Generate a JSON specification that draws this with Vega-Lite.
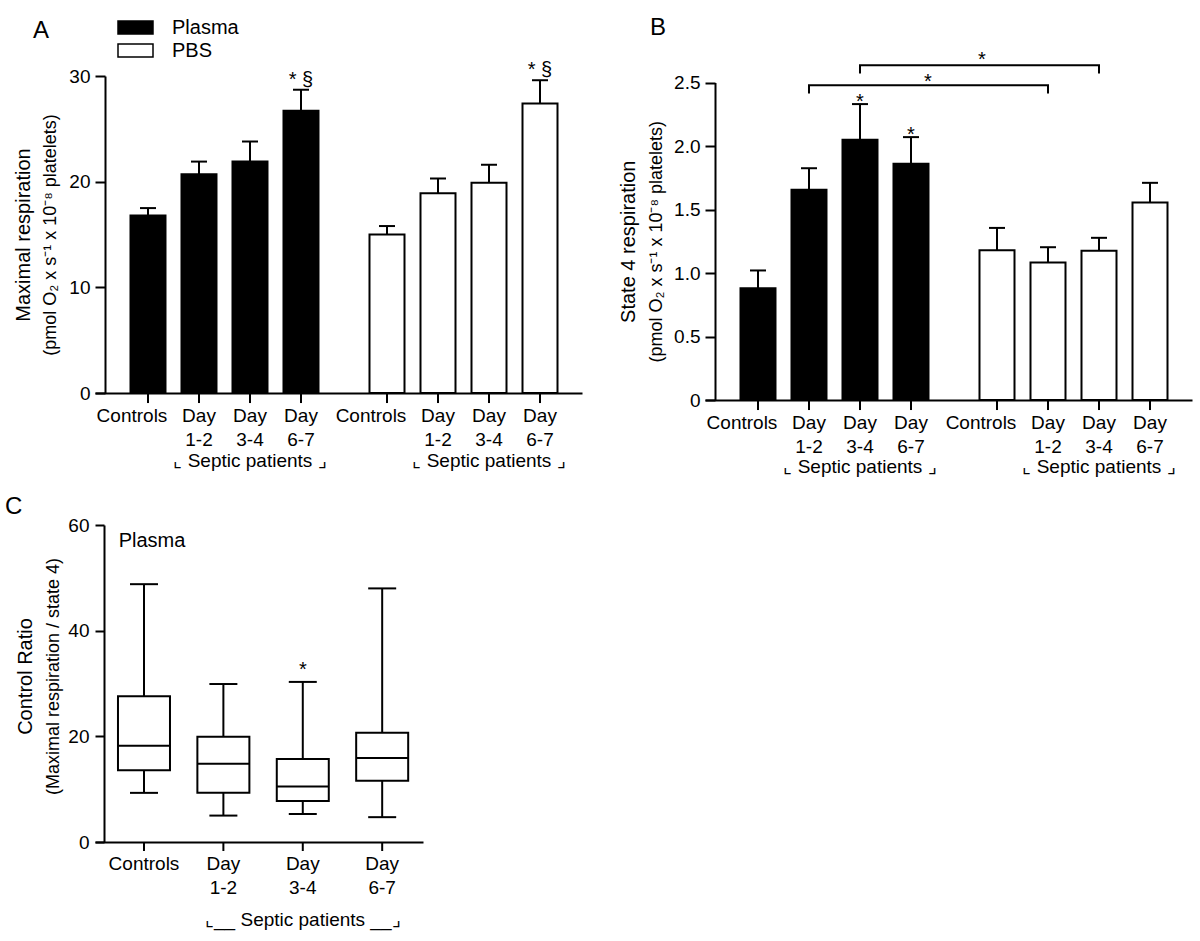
{
  "$schema": "https://vega.github.io/schema/vega-lite/v6.json",
  "padding": {"left": 5, "top": 16, "right": 5, "bottom": 5},
  "bounds": "flush",
  "spacing": 449,
  "datasets": {
    "A": [
      {"group": "Plasma", "cat": "Controls", "lab": "Controls", "mean": 16.8, "err": 17.5, "sig": ""},
      {"group": "Plasma", "cat": "Day 1-2", "lab": "Day\n1-2", "mean": 20.7, "err": 21.9, "sig": ""},
      {"group": "Plasma", "cat": "Day 3-4", "lab": "Day\n3-4", "mean": 21.9, "err": 23.8, "sig": ""},
      {"group": "Plasma", "cat": "Day 6-7", "lab": "Day\n6-7", "mean": 26.7, "err": 28.7, "sig": "* §"},
      {"group": "PBS", "cat": "Controls", "lab": "Controls", "mean": 15.0, "err": 15.8, "sig": ""},
      {"group": "PBS", "cat": "Day 1-2", "lab": "Day\n1-2", "mean": 18.9, "err": 20.3, "sig": ""},
      {"group": "PBS", "cat": "Day 3-4", "lab": "Day\n3-4", "mean": 19.9, "err": 21.6, "sig": ""},
      {"group": "PBS", "cat": "Day 6-7", "lab": "Day\n6-7", "mean": 27.4, "err": 29.6, "sig": "* §"}
    ],
    "B": [
      {"group": "Plasma", "cat": "Controls", "lab": "Controls", "mean": 0.88, "err": 1.02, "sig": ""},
      {"group": "Plasma", "cat": "Day 1-2", "lab": "Day\n1-2", "mean": 1.655, "err": 1.825, "sig": ""},
      {"group": "Plasma", "cat": "Day 3-4", "lab": "Day\n3-4", "mean": 2.05, "err": 2.33, "sig": "*"},
      {"group": "Plasma", "cat": "Day 6-7", "lab": "Day\n6-7", "mean": 1.86, "err": 2.07, "sig": "*"},
      {"group": "PBS", "cat": "Controls", "lab": "Controls", "mean": 1.18, "err": 1.355, "sig": ""},
      {"group": "PBS", "cat": "Day 1-2", "lab": "Day\n1-2", "mean": 1.083, "err": 1.203, "sig": ""},
      {"group": "PBS", "cat": "Day 3-4", "lab": "Day\n3-4", "mean": 1.175, "err": 1.277, "sig": ""},
      {"group": "PBS", "cat": "Day 6-7", "lab": "Day\n6-7", "mean": 1.555, "err": 1.71, "sig": ""}
    ],
    "brk": [
      {"b": 1, "o": 1, "group": "Plasma", "cat": "Day 1-2", "v": 2.413},
      {"b": 1, "o": 2, "group": "Plasma", "cat": "Day 1-2", "v": 2.479},
      {"b": 1, "o": 3, "group": "PBS", "cat": "Day 1-2", "v": 2.479},
      {"b": 1, "o": 4, "group": "PBS", "cat": "Day 1-2", "v": 2.413},
      {"b": 2, "o": 1, "group": "Plasma", "cat": "Day 3-4", "v": 2.571},
      {"b": 2, "o": 2, "group": "Plasma", "cat": "Day 3-4", "v": 2.636},
      {"b": 2, "o": 3, "group": "PBS", "cat": "Day 3-4", "v": 2.636},
      {"b": 2, "o": 4, "group": "PBS", "cat": "Day 3-4", "v": 2.571}
    ],
    "C": [
      {"cat": "Controls", "lab": "Controls", "min": 9.3, "q1": 13.6, "med": 18.2, "q3": 27.6, "max": 48.8, "sig": ""},
      {"cat": "Day 1-2", "lab": "Day\n1-2", "min": 5.0, "q1": 9.3, "med": 14.8, "q3": 19.9, "max": 29.9, "sig": ""},
      {"cat": "Day 3-4", "lab": "Day\n3-4", "min": 5.3, "q1": 7.75, "med": 10.5, "q3": 15.7, "max": 30.3, "sig": "*"},
      {"cat": "Day 6-7", "lab": "Day\n6-7", "min": 4.7, "q1": 11.6, "med": 15.9, "q3": 20.7, "max": 48.0, "sig": ""}
    ]
  },
  "vconcat": [
    {
      "hconcat": [
        {
          "width": 487,
          "height": 317,
          "data": {"name": "A"},
          "title": {"text": "A", "dx": -62, "dy": -13, "fontSize": 24},
          "encoding": {
            "x": {"field": "group", "type": "nominal", "scale": {"domain": ["Plasma", "PBS"], "paddingInner": 0.1464, "paddingOuter": 0.092, "align": 0.625}, "axis": {"labels": false, "ticks": false, "title": null, "domain": true}},
            "xOffset": {"field": "cat", "type": "nominal", "scale": {"domain": ["Controls", "Day 1-2", "Day 3-4", "Day 6-7"], "paddingInner": 0.3137, "paddingOuter": 0.157}}
          },
          "layer": [
            {
              "mark": {"type": "bar", "stroke": "black", "strokeWidth": 2},
              "encoding": {
                "y": {"field": "mean", "type": "quantitative", "scale": {"domain": [0, 30], "nice": false}, "axis": {"orient": "left", "values": [0, 10, 20, 30], "offset": -10, "tickSize": 10, "labelPadding": 5, "title": "(pmol O₂ x s⁻¹ x 10⁻⁸ platelets)", "titleFontSize": 18, "titlePadding": 9}},
                "fill": {"field": "group", "type": "nominal", "scale": {"domain": ["Plasma", "PBS"], "range": ["black", "white"]}, "legend": {"title": null, "orient": "none", "legendX": 22, "legendY": -56, "padding": 0, "direction": "vertical", "symbolType": "M-1,-0.371H1V0.371H-1Z", "symbolSize": 1225, "symbolStrokeColor": "black", "symbolStrokeWidth": 1.5, "clipHeight": 15, "rowPadding": 2, "labelOffset": 18, "labelFontSize": 20, "labelColor": "black", "labelFont": "Liberation Sans"}}
              }
            },
            {
              "mark": {"type": "rule", "color": "black", "strokeWidth": 2},
              "encoding": {
                "y": {"field": "mean", "type": "quantitative", "axis": {"orient": "left", "labels": false, "ticks": false, "domain": false, "title": "Maximal respiration", "titleFontSize": 20, "titlePadding": 62}},
                "y2": {"field": "err"}
              }
            },
            {
              "mark": {"type": "tick", "color": "black", "opacity": 1, "thickness": 2, "size": 16},
              "encoding": {"y": {"field": "err", "type": "quantitative", "axis": null}}
            },
            {
              "mark": {"type": "text", "fontSize": 20, "dy": -4, "baseline": "alphabetic", "color": "black"},
              "encoding": {"y": {"field": "err", "type": "quantitative", "axis": null}, "text": {"field": "sig"}}
            },
            {
              "mark": {"type": "rule", "color": "black", "strokeWidth": 2},
              "encoding": {"y": {"datum": 0, "type": "quantitative", "axis": null}, "y2": {"datum": -0.95}}
            },
            {
              "transform": [{"filter": "datum.cat != 'Controls'"}],
              "mark": {"type": "text", "fontSize": 19, "lineBreak": "\n", "lineHeight": 24, "dy": 29, "baseline": "alphabetic", "color": "black"},
              "encoding": {"y": {"datum": 0, "type": "quantitative", "axis": null}, "text": {"field": "lab"}}
            },
            {
              "transform": [{"filter": "datum.cat == 'Controls'"}],
              "mark": {"type": "text", "fontSize": 19, "dy": 29, "dx": -16, "baseline": "alphabetic", "color": "black"},
              "encoding": {"y": {"datum": 0, "type": "quantitative", "axis": null}, "text": {"field": "lab"}}
            },
            {
              "transform": [{"filter": "datum.cat == 'Day 3-4'"}],
              "mark": {"type": "text", "fontSize": 19, "dy": 74, "baseline": "alphabetic", "color": "black", "text": "⌞ Septic patients ⌟"},
              "encoding": {"y": {"datum": 0, "type": "quantitative", "axis": null}}
            }
          ],
          "resolve": {"axis": {"y": "independent"}}
        },
        {
          "width": 487,
          "height": 324,
          "data": {"name": "B"},
          "title": {"text": "B", "dx": -55, "dy": -6, "fontSize": 24},
          "encoding": {
            "x": {"field": "group", "type": "nominal", "scale": {"domain": ["Plasma", "PBS"], "paddingInner": 0.1464, "paddingOuter": 0.092, "align": 0.625}, "axis": {"labels": false, "ticks": false, "title": null, "domain": true}},
            "xOffset": {"field": "cat", "type": "nominal", "scale": {"domain": ["Controls", "Day 1-2", "Day 3-4", "Day 6-7"], "paddingInner": 0.3137, "paddingOuter": 0.157}}
          },
          "layer": [
            {
              "mark": {"type": "bar", "stroke": "black", "strokeWidth": 2},
              "encoding": {
                "y": {"field": "mean", "type": "quantitative", "scale": {"domain": [0, 2.5], "range": [324, 6.5], "nice": false}, "axis": {"orient": "left", "values": [0, 0.5, 1, 1.5, 2, 2.5], "labelExpr": "datum.value == 0 ? '0' : format(datum.value, '.1f')", "offset": -10, "tickSize": 10, "labelPadding": 5, "title": "(pmol O₂ x s⁻¹ x 10⁻⁸ platelets)", "titleFontSize": 18, "titlePadding": 8}},
                "fill": {"field": "group", "type": "nominal", "scale": {"domain": ["Plasma", "PBS"], "range": ["black", "white"]}, "legend": {"title": null, "orient": "none", "legendX": 18, "legendY": -56, "padding": 0, "direction": "vertical", "symbolType": "M-1,-0.371H1V0.371H-1Z", "symbolSize": 1225, "symbolStrokeColor": "black", "symbolStrokeWidth": 1.5, "clipHeight": 15, "rowPadding": 2, "labelOffset": 18, "labelFontSize": 20, "labelColor": "black", "labelFont": "Liberation Sans"}}
              }
            },
            {
              "mark": {"type": "rule", "color": "black", "strokeWidth": 2},
              "encoding": {
                "y": {"field": "mean", "type": "quantitative", "axis": {"orient": "left", "labels": false, "ticks": false, "domain": false, "title": "State 4 respiration", "titleFontSize": 20, "titlePadding": 67}},
                "y2": {"field": "err"}
              }
            },
            {
              "mark": {"type": "tick", "color": "black", "opacity": 1, "thickness": 2, "size": 16},
              "encoding": {"y": {"field": "err", "type": "quantitative", "axis": null}}
            },
            {
              "mark": {"type": "text", "fontSize": 20, "dy": 4, "baseline": "alphabetic", "color": "black"},
              "encoding": {"y": {"field": "err", "type": "quantitative", "axis": null}, "text": {"field": "sig"}}
            },
            {
              "data": {"name": "brk"},
              "mark": {"type": "line", "color": "black", "strokeWidth": 2},
              "encoding": {"y": {"field": "v", "type": "quantitative", "axis": null}, "detail": {"field": "b"}, "order": {"field": "o"}}
            },
            {
              "data": {"name": "brk"},
              "transform": [{"filter": "datum.b == 1 && datum.o == 2"}],
              "mark": {"type": "text", "fontSize": 20, "dy": 3, "dx": 119, "baseline": "alphabetic", "color": "black", "text": "*"},
              "encoding": {"y": {"field": "v", "type": "quantitative", "axis": null}}
            },
            {
              "data": {"name": "brk"},
              "transform": [{"filter": "datum.b == 2 && datum.o == 2"}],
              "mark": {"type": "text", "fontSize": 20, "dy": 1, "dx": 122, "baseline": "alphabetic", "color": "black", "text": "*"},
              "encoding": {"y": {"field": "v", "type": "quantitative", "axis": null}}
            },
            {
              "mark": {"type": "rule", "color": "black", "strokeWidth": 2},
              "encoding": {"y": {"datum": 0, "type": "quantitative", "axis": null}, "y2": {"datum": -0.079}}
            },
            {
              "transform": [{"filter": "datum.cat != 'Controls'"}],
              "mark": {"type": "text", "fontSize": 19, "lineBreak": "\n", "lineHeight": 24, "dy": 29, "baseline": "alphabetic", "color": "black"},
              "encoding": {"y": {"datum": 0, "type": "quantitative", "axis": null}, "text": {"field": "lab"}}
            },
            {
              "transform": [{"filter": "datum.cat == 'Controls'"}],
              "mark": {"type": "text", "fontSize": 19, "dy": 29, "dx": -16, "baseline": "alphabetic", "color": "black"},
              "encoding": {"y": {"datum": 0, "type": "quantitative", "axis": null}, "text": {"field": "lab"}}
            },
            {
              "transform": [{"filter": "datum.cat == 'Day 3-4'"}],
              "mark": {"type": "text", "fontSize": 19, "dy": 73, "baseline": "alphabetic", "color": "black", "text": "⌞ Septic patients ⌟"},
              "encoding": {"y": {"datum": 0, "type": "quantitative", "axis": null}}
            }
          ],
          "resolve": {"axis": {"y": "independent"}}
        }
      ],
      "spacing": 123,
      "bounds": "flush"
    },
    {
      "width": 328,
      "height": 317,
      "data": {"name": "C"},
      "title": {"text": "C", "dx": -90, "dy": 7, "fontSize": 24},
      "encoding": {
        "x": {"field": "cat", "type": "nominal", "scale": {"domain": ["Controls", "Day 1-2", "Day 3-4", "Day 6-7"], "paddingInner": 0.345, "paddingOuter": 0.238, "align": 0.608}, "axis": {"labels": false, "ticks": false, "title": null, "domain": true}}
      },
      "layer": [
        {
          "mark": {"type": "rule", "color": "black", "strokeWidth": 2},
          "encoding": {
            "y": {"field": "min", "type": "quantitative", "scale": {"domain": [0, 60], "nice": false}, "axis": {"orient": "left", "values": [0, 20, 40, 60], "offset": -9, "tickSize": 9, "labelPadding": 6, "title": "(Maximal respiration / state 4)", "titleFontSize": 18, "titlePadding": 5, "titleY": 151}},
            "y2": {"field": "max"}
          }
        },
        {
          "mark": {"type": "bar", "fill": "white", "stroke": "black", "strokeWidth": 2},
          "encoding": {
            "y": {"field": "q1", "type": "quantitative", "axis": {"orient": "left", "labels": false, "ticks": false, "domain": false, "title": "Control Ratio", "titleFontSize": 20, "titlePadding": 60, "titleY": 151}},
            "y2": {"field": "q3"}
          }
        },
        {
          "mark": {"type": "tick", "color": "black", "opacity": 1, "thickness": 2, "size": 52},
          "encoding": {"y": {"field": "med", "type": "quantitative", "axis": null}}
        },
        {
          "mark": {"type": "tick", "color": "black", "opacity": 1, "thickness": 2, "size": 28},
          "encoding": {"y": {"field": "min", "type": "quantitative", "axis": null}}
        },
        {
          "mark": {"type": "tick", "color": "black", "opacity": 1, "thickness": 2, "size": 28},
          "encoding": {"y": {"field": "max", "type": "quantitative", "axis": null}}
        },
        {
          "mark": {"type": "text", "fontSize": 20, "dy": -6, "baseline": "alphabetic", "color": "black"},
          "encoding": {"y": {"field": "max", "type": "quantitative", "axis": null}, "text": {"field": "sig"}}
        },
        {
          "mark": {"type": "rule", "color": "black", "strokeWidth": 2},
          "encoding": {"y": {"datum": 0, "type": "quantitative", "axis": null}, "y2": {"datum": -1.7}}
        },
        {
          "mark": {"type": "text", "fontSize": 19, "lineBreak": "\n", "lineHeight": 24, "dy": 28, "baseline": "alphabetic", "color": "black"},
          "encoding": {"y": {"datum": 0, "type": "quantitative", "axis": null}, "text": {"field": "lab"}}
        },
        {
          "transform": [{"filter": "datum.cat == 'Day 3-4'"}],
          "mark": {"type": "text", "fontSize": 19, "dy": 84, "baseline": "alphabetic", "color": "black", "text": "⌞__ Septic patients __⌟"},
          "encoding": {"y": {"datum": 0, "type": "quantitative", "axis": null}}
        },
        {
          "transform": [{"filter": "datum.cat == 'Controls'"}],
          "mark": {"type": "text", "fontSize": 20, "dy": 22, "dx": 8, "baseline": "alphabetic", "color": "black", "text": "Plasma"},
          "encoding": {"y": {"datum": 60, "type": "quantitative", "axis": null}}
        }
      ],
      "resolve": {"axis": {"y": "independent"}}
    }
  ],
  "config": {
    "view": {"stroke": null},
    "font": "Liberation Sans",
    "axis": {"domainColor": "black", "domainWidth": 2, "tickColor": "black", "tickWidth": 2, "labelColor": "black", "labelFontSize": 19, "labelFont": "Liberation Sans", "titleColor": "black", "titleFont": "Liberation Sans", "titleFontWeight": "normal", "grid": false},
    "title": {"font": "Liberation Sans", "fontWeight": "normal", "fontSize": 26, "color": "black", "anchor": "start", "frame": "group"},
    "text": {"font": "Liberation Sans", "color": "black"}
  }
}
